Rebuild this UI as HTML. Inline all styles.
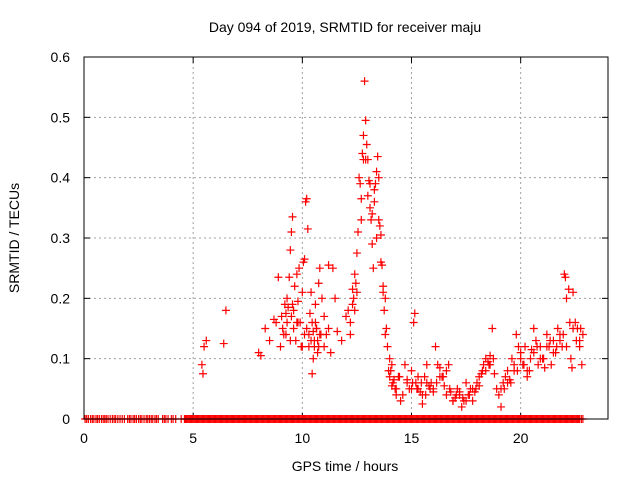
<!DOCTYPE html>
<html><head><meta charset="utf-8">
<style>
body{margin:0;background:#fff;}
svg{display:block;font-family:"Liberation Sans",sans-serif;}
</style></head>
<body>
<svg id="chart" width="640" height="480" viewBox="0 0 640 480" xmlns="http://www.w3.org/2000/svg">
<rect width="640" height="480" fill="#fff"/>
<text x="345" y="32" text-anchor="middle" font-size="14" fill="#000">Day 094 of 2019, SRMTID for receiver maju</text>
<text x="345" y="471" text-anchor="middle" font-size="14" fill="#000">GPS time / hours</text>
<text transform="translate(19,238) rotate(-90)" text-anchor="middle" font-size="14" fill="#000">SRMTID / TECUs</text>
<g id="grid"></g>
<g id="ticks"></g>
<g id="points"></g>
<rect x="84" y="57" width="524" height="362" fill="none" stroke="#000" stroke-width="1"/>
</svg>
<script>
const xTicks = [0, 5, 10, 15, 20];
const yTicks = [0, 0.1, 0.2, 0.3, 0.4, 0.5, 0.6];
const yTickLabels = ["0", "0.1", "0.2", "0.3", "0.4", "0.5", "0.6"];
const hours = [5.4,5.45,5.5,5.6,6.4,6.5,8.0,8.1,8.3,8.5,8.7,8.8,8.9,9.0,9.1,9.2,9.25,9.3,9.35,9.4,9.45,9.5,9.55,9.5,9.6,9.65,9.7,9.75,9.8,9.85,9.9,9.95,10.0,10.05,10.1,10.15,10.2,10.25,10.3,10.35,10.4,10.45,10.5,10.55,10.6,10.65,10.7,10.75,10.8,10.9,11.0,11.1,11.2,11.3,11.4,11.5,11.6,11.8,12.0,12.1,12.2,12.3,12.35,12.4,12.45,12.5,12.55,12.6,12.65,12.7,12.75,12.8,12.85,12.9,12.95,13.0,13.05,13.1,13.15,13.2,13.25,13.3,13.35,13.4,13.45,13.5,13.55,13.6,13.65,13.7,13.75,13.8,13.85,13.9,13.95,14.0,14.1,14.2,14.3,14.5,14.7,14.8,14.9,15.0,15.1,15.15,15.2,15.3,15.4,15.5,15.6,15.7,15.8,15.9,16.0,16.1,16.2,16.3,16.4,16.5,16.6,16.7,16.8,16.9,17.0,17.1,17.2,17.3,17.4,17.5,17.6,17.7,17.8,17.9,18.0,18.1,18.2,18.3,18.4,18.5,18.6,18.7,18.8,18.9,19.0,19.1,19.2,19.3,19.4,19.5,19.6,19.7,19.8,19.9,20.0,20.1,20.2,20.3,20.4,20.5,20.6,20.7,20.8,20.9,21.0,21.1,21.2,21.3,21.4,21.5,21.6,21.7,21.8,21.9,22.0,22.05,22.1,22.2,22.3,22.35,22.4,22.5,22.6,22.7,22.8,22.85,
9.15,9.3,9.45,9.6,9.8,10.0,10.2,10.4,10.5,10.6,10.7,10.8,11.0,11.2,12.2,12.4,12.7,12.9,13.0,13.2,13.4,13.6,13.8,14.0,14.1,14.3,14.4,14.6,14.8,15.0,15.3,15.5,15.7,16.0,16.3,16.6,16.9,17.2,17.5,17.8,18.1,18.4,18.6,19.1,19.4,19.7,20.0,20.3,20.6,20.9,21.2,21.5,21.8,22.1,22.4,22.7,
9.05,9.25,9.55,9.75,10.1,10.3,10.45,10.55,10.65,10.75,10.85,12.3,12.5,12.8,13.1,13.3,13.5,13.7,14.05,14.15,14.25,14.45,15.05,15.25,15.45,15.65,15.85,16.15,16.45,16.75,17.05,17.35,17.65,17.95,18.25,18.55,18.75,19.25,19.55,19.85,20.15,20.45,20.75,21.05,21.35,21.65,21.95,22.25,22.55,22.75];
const values = [0.09,0.075,0.12,0.13,0.125,0.18,0.11,0.105,0.15,0.13,0.165,0.16,0.235,0.12,0.15,0.19,0.175,0.2,0.185,0.235,0.28,0.31,0.335,0.17,0.15,0.22,0.13,0.24,0.195,0.25,0.16,0.12,0.21,0.26,0.265,0.36,0.365,0.315,0.14,0.175,0.21,0.075,0.145,0.12,0.19,0.15,0.13,0.225,0.25,0.2,0.17,0.14,0.255,0.11,0.25,0.2,0.145,0.13,0.17,0.18,0.14,0.215,0.2,0.24,0.225,0.275,0.31,0.4,0.39,0.365,0.44,0.47,0.56,0.495,0.455,0.43,0.395,0.35,0.33,0.29,0.25,0.38,0.39,0.41,0.435,0.4,0.32,0.305,0.255,0.22,0.18,0.2,0.15,0.12,0.08,0.1,0.055,0.065,0.04,0.03,0.09,0.065,0.05,0.08,0.16,0.175,0.06,0.05,0.045,0.025,0.07,0.09,0.055,0.06,0.045,0.12,0.09,0.085,0.07,0.055,0.08,0.09,0.045,0.03,0.035,0.05,0.045,0.02,0.03,0.06,0.04,0.05,0.03,0.045,0.06,0.055,0.075,0.09,0.1,0.095,0.105,0.15,0.075,0.05,0.04,0.02,0.06,0.07,0.08,0.065,0.1,0.08,0.14,0.12,0.1,0.09,0.12,0.07,0.08,0.115,0.15,0.13,0.09,0.12,0.1,0.085,0.14,0.12,0.09,0.13,0.11,0.15,0.14,0.12,0.24,0.235,0.2,0.215,0.1,0.085,0.21,0.16,0.15,0.12,0.09,0.14,
0.14,0.16,0.13,0.18,0.16,0.12,0.15,0.13,0.1,0.16,0.11,0.14,0.12,0.15,0.16,0.18,0.33,0.43,0.37,0.34,0.3,0.26,0.14,0.07,0.09,0.05,0.07,0.04,0.06,0.05,0.07,0.04,0.06,0.05,0.07,0.04,0.03,0.04,0.03,0.05,0.07,0.08,0.09,0.05,0.06,0.09,0.11,0.08,0.11,0.1,0.12,0.11,0.13,0.12,0.15,0.13,
0.17,0.14,0.19,0.16,0.14,0.12,0.16,0.13,0.15,0.12,0.14,0.19,0.21,0.43,0.39,0.36,0.33,0.21,0.08,0.06,0.05,0.07,0.06,0.05,0.06,0.04,0.05,0.06,0.07,0.05,0.04,0.035,0.04,0.05,0.08,0.09,0.1,0.05,0.06,0.08,0.09,0.1,0.12,0.1,0.13,0.12,0.14,0.16,0.13,0.15];
const zeroHours = [0.05,0.2,0.3,0.45,0.55,0.7,0.8,0.95,1.1,1.2,1.3,1.45,1.55,1.75,1.85,2.0,2.15,2.25,2.4,2.5,2.65,2.75,2.85,3.0,3.15,3.25,3.4,3.6,3.75,3.85,4.0,4.2,4.45,4.6,4.7,4.8,4.9,5.0,5.1,5.2,5.3,5.4,5.5,5.6,5.7,5.8,5.9,6.0,6.1,6.2,6.3,6.4,6.5,6.6,6.7,6.8,6.9,7.0,7.1,7.2,7.3,7.4,7.5,7.6,7.7,7.8,7.9,8.0,8.1,8.2,8.3,8.4,8.5,8.6,8.7,8.8,8.9,9.0,9.1,9.2,9.3,9.4,9.5,9.6,9.7,9.8,9.9,10.0,10.1,10.2,10.3,10.4,10.5,10.6,10.7,10.8,10.9,11.0,11.1,11.2,11.3,11.4,11.5,11.6,11.7,11.8,11.9,12.0,12.1,12.2,12.3,12.4,12.5,12.6,12.7,12.8,12.9,13.0,13.1,13.2,13.3,13.4,13.5,13.6,13.7,13.8,13.9,14.0,14.1,14.2,14.3,14.4,14.5,14.6,14.7,14.8,14.9,15.0,15.1,15.2,15.3,15.4,15.5,15.6,15.7,15.8,15.9,16.0,16.1,16.2,16.3,16.4,16.5,16.6,16.7,16.8,16.9,17.0,17.1,17.2,17.3,17.4,17.5,17.6,17.7,17.8,17.9,18.0,18.1,18.2,18.3,18.4,18.5,18.6,18.7,18.8,18.9,19.0,19.1,19.2,19.3,19.4,19.5,19.6,19.7,19.8,19.9,20.0,20.1,20.2,20.3,20.4,20.5,20.6,20.7,20.8,20.9,21.0,21.1,21.2,21.3,21.4,21.5,21.6,21.7,21.8,21.9,22.0,22.1,22.2,22.3,22.4,22.5,22.6,22.7,22.85,
0.12,0.38,0.62,0.88,1.02,1.38,1.65,2.08,2.32,2.58,2.92,3.08,3.32,3.68,4.08,4.65,4.75,4.85,4.95,5.05,5.15,5.25,5.35,5.45,5.55,5.65,5.75,5.85,5.95,6.05,6.15,6.25,6.35,6.45,6.55,6.65,6.75,6.85,6.95,7.05,7.15,7.25,7.35,7.45,7.55,7.65,7.75,7.85,7.95,8.05,8.15,8.25,8.35,8.45,8.55,8.65,8.75,8.85,8.95,9.05,9.15,9.25,9.35,9.45,9.55,9.65,9.75,9.85,9.95,10.05,10.15,10.25,10.35,10.45,10.55,10.65,10.75,10.85,10.95,11.05,11.15,11.25,11.35,11.45,11.55,11.65,11.75,11.85,11.95,12.05,12.15,12.25,12.35,12.45,12.55,12.65,12.75,12.85,12.95,13.05,13.15,13.25,13.35,13.45,13.55,13.65,13.75,13.85,13.95,14.05,14.15,14.25,14.35,14.45,14.55,14.65,14.75,14.85,14.95,15.05,15.15,15.25,15.35,15.45,15.55,15.65,15.75,15.85,15.95,16.05,16.15,16.25,16.35,16.45,16.55,16.65,16.75,16.85,16.95,17.05,17.15,17.25,17.35,17.45,17.55,17.65,17.75,17.85,17.95,18.05,18.15,18.25,18.35,18.45,18.55,18.65,18.75,18.85,18.95,19.05,19.15,19.25,19.35,19.45,19.55,19.65,19.75,19.85,19.95,20.05,20.15,20.25,20.35,20.45,20.55,20.65,20.75,20.85,20.95,21.05,21.15,21.25,21.35,21.45,21.55,21.65,21.75,21.85,21.95,22.05,22.15,22.25,22.35,22.45,22.55,22.65,22.78];

const NS = "http://www.w3.org/2000/svg";
const X0 = 84, X1 = 608, Y0 = 419, Y1 = 57;
const xMax = 24, yMax = 0.6;
function xs(h){ return X0 + (h / xMax) * (X1 - X0); }
function ys(v){ return Y0 - (v / yMax) * (Y0 - Y1); }

const grid = document.getElementById('grid');
const ticks = document.getElementById('ticks');
const pts = document.getElementById('points');
function mk(tag, attrs, parent){ const e = document.createElementNS(NS, tag); for (const k in attrs) e.setAttribute(k, attrs[k]); parent.appendChild(e); return e; }

xTicks.forEach((t, i) => {
  const x = xs(t);
  if (i > 0) {
    const g = mk('line', {x1:x, y1:Y0, x2:x, y2:Y1, stroke:'#a0a0a0', 'stroke-dasharray':'2,3'}, grid);
    
    
  }
  const tk = mk('line', {x1:x, y1:Y0, x2:x, y2:Y0-6, stroke:'#000'}, ticks);
  
  
  const tk2 = mk('line', {x1:x, y1:Y1, x2:x, y2:Y1+6, stroke:'#000'}, ticks);
  
  
  const lb = mk('text', {x:x, y:Y0+24, 'text-anchor':'middle', 'font-size':14}, ticks);
  lb.textContent = String(t);
  
  
});
yTicks.forEach((t, i) => {
  const y = ys(t);
  if (i > 0 && i < yTicks.length - 1) {
    const g = mk('line', {x1:X0, y1:y, x2:X1, y2:y, stroke:'#a0a0a0', 'stroke-dasharray':'2,3'}, grid);
    
    
  }
  const tk = mk('line', {x1:X0, y1:y, x2:X0+6, y2:y, stroke:'#000'}, ticks);
  
  
  const tk2 = mk('line', {x1:X1, y1:y, x2:X1-6, y2:y, stroke:'#000'}, ticks);
  
  
  const lb = mk('text', {x:X0-14, y:y+5, 'text-anchor':'end', 'font-size':14}, ticks);
  lb.textContent = yTickLabels[i];
  
  
});

function plus(x, y){
  const p = mk('path', {d:`M${x-4},${y}h8M${x},${y-4}v8`, stroke:'#f00', 'stroke-width':1.2, fill:'none'}, pts);
  return p;
}
hours.forEach((h, i) => {
  const p = plus(xs(h), ys(values[i]));
  
  
});
zeroHours.forEach(h => {
  const p = plus(xs(h), ys(0));
  
  
});
</script>
</body></html>
